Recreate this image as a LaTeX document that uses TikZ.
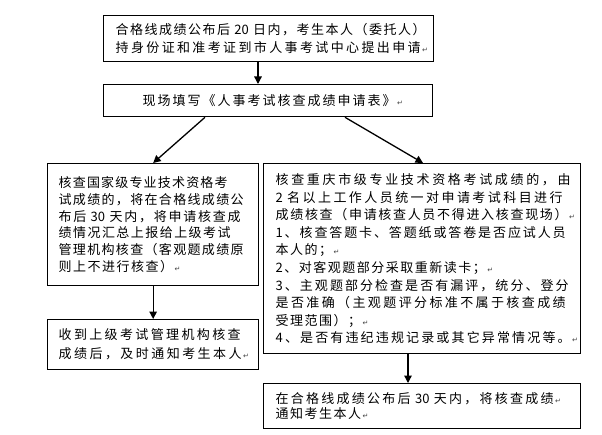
\documentclass[tikz,border=0pt]{standalone}
\usepackage{fontspec}
\setmainfont{Noto Sans CJK SC}
\newfontfamily\symfont{DejaVu Sans}
\usetikzlibrary{arrows.meta}
\newXeTeXintercharclass\cjkc
\count255="4E00
\loop
  \XeTeXcharclass\count255=\cjkc
  \advance\count255 by 1
\ifnum\count255<"A000 \repeat
\XeTeXcharclass"FF0C=\cjkc
\XeTeXcharclass"FF08=\cjkc
\XeTeXcharclass"FF09=\cjkc
\XeTeXcharclass"FF1B=\cjkc
\XeTeXcharclass"3001=\cjkc
\XeTeXcharclass"3002=\cjkc
\XeTeXcharclass"300A=\cjkc
\XeTeXcharclass"300B=\cjkc
\newcommand\cgap{\hskip 1.5bp plus 1fil minus 1fil\relax}
\XeTeXinterchartoks\cjkc\cjkc={\cgap}
\XeTeXinterchartoks 0 \cjkc={\cgap}
\XeTeXinterchartoks\cjkc 0 ={\cgap}
\XeTeXinterchartokenstate=1
\newcommand\Jl[2]{\leavevmode\hbox to #1bp{#2}}
\newcommand\Nl[1]{\leavevmode\hbox{#1}}
\newcommand\rt{\hbox{\kern1.5bp\symfont\fontsize{7bp}{7bp}\selectfont\textcolor{darkgray}{↵}}}
\tikzset{
  box/.style={draw, line width=1.3bp, rectangle, anchor=north west, align=left,
    inner ysep=0pt, font=\fontsize{13bp}{#1}\selectfont,
    execute at begin node={\parindent=0pt}},
  arr/.style={-{Triangle[length=7.5bp,width=7.5bp]}, line width=1.3bp}
}
\begin{document}
\begin{tikzpicture}[x=1bp,y=-1bp]
\useasboundingbox (0,0) rectangle (602,435);
\fill[white] (0,0) rectangle (602,435);
\coordinate (x258) at (258,0);
\coordinate (x205) at (205,0);
\coordinate (x345) at (345,0);
\coordinate (x423) at (423,0);
\coordinate (x408) at (408,0);

\node[box=18bp, minimum width=330bp, minimum height=46bp, inner xsep=12bp, text width=306bp] (b1) at (103,15)
 {\Jl{310}{合格线成绩公布后 20 日内，考生本人（委托人）}\\
  \Jl{305}{持身份证和准考证到市人事考试中心提出申请}\rt};

\node[box=17bp, minimum width=329bp, minimum height=32bp, inner xsep=39bp, text width=251bp] (b2) at (103,84)
 {\Jl{253}{现场填写《人事考试核查成绩申请表》}\rt};

\node[box=16.7bp, minimum width=211bp, minimum height=122bp, inner xsep=11bp, text width=189bp] (b3) at (47,163)
 {\Jl{169}{核查国家级专业技术资格考}\\
  \Jl{185}{试成绩的，将在合格线成绩公}\\
  \Jl{182}{布后 30 天内，将申请核查成}\\
  \Jl{172}{绩情况汇总上报给上级考试}\\
  \Jl{185}{管理机构核查（客观题成绩原}\\
  \Nl{则上不进行核查）}\rt};

\node[box=19bp, minimum width=211bp, minimum height=50bp, inner xsep=11bp, text width=189bp] (b4) at (47,319)
 {\Jl{182}{收到上级考试管理机构核查}\\
  \Jl{183}{成绩后，及时通知考生本人}\rt};

\node[box=17.6bp, minimum width=317bp, minimum height=190bp, inner xsep=12bp, text width=293bp] (b5) at (263,163)
 {\Jl{295}{核查重庆市级专业技术资格考试成绩的，由}\\
  \Jl{287}{2 名以上工作人员统一对申请考试科目进行}\\
  \Jl{292}{成绩核查（申请核查人员不得进入核查现场）}\rt\\
  \Jl{290}{1、核查答题卡、答题纸或答卷是否应试人员}\\
  \Nl{本人的；}\rt\\
  \Nl{2、对客观题部分采取重新读卡；}\rt\\
  \Jl{293}{3、主观题部分检查是否有漏评，统分、登分}\\
  \Jl{290}{是否准确（主观题评分标准不属于核查成绩}\\
  \Nl{受理范围）；}\rt\\
  \Jl{295}{4、是否有违纪违规记录或其它异常情况等。}\rt};

\node[box=15.7bp, minimum width=317bp, minimum height=45bp, inner xsep=12bp, text width=293bp] (b6) at (263,383)
 {\Jl{278}{在合格线成绩公布后 30 天内，将核查成绩}\rt\\
  \Nl{通知考生本人}\rt};

\draw[arr] (b1.south -| x258) -- (b2.north -| x258);
\draw[arr] (b2.south -| x205) -- (b3.north);
\draw[arr] (b2.south -| x345) -- (b5.north -| x423);
\draw[arr] (b3.south) -- (b4.north);
\draw[arr] (b5.south -| x408) -- (b6.north -| x408);
\end{tikzpicture}
\end{document}
